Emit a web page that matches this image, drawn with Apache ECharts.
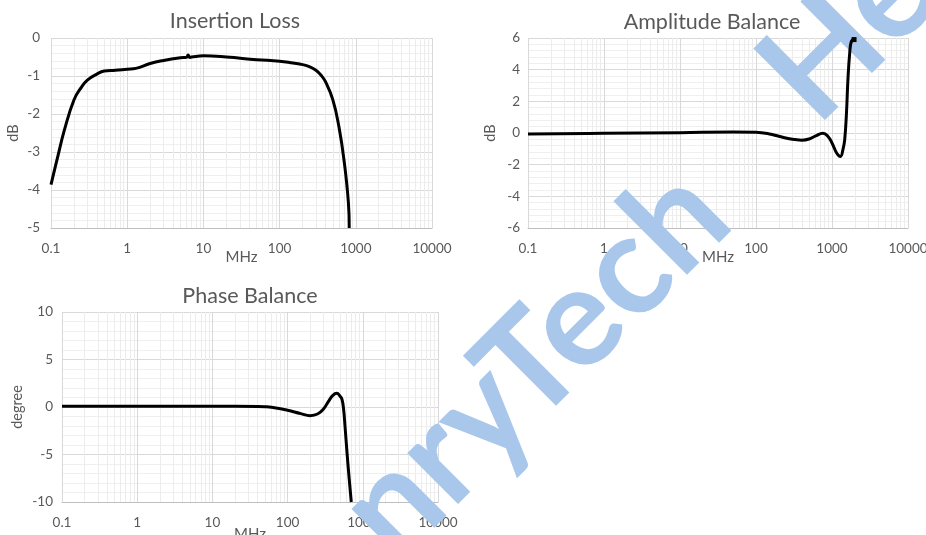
<!DOCTYPE html>
<html><head><meta charset="utf-8">
<script src="https://cdn.jsdelivr.net/npm/echarts@6/dist/echarts.min.js"></script>
<style>html,body{margin:0;padding:0;background:#fff}#c{width:926px;height:535px}</style>
</head><body><div id="c"></div>
<script>
// Insertion Loss (MHz, dB)
const ilFreq = [0.1, 0.12, 0.15, 0.2, 0.25, 0.3, 0.4, 0.5, 0.7, 1, 1.3, 2, 3, 5, 6, 6.3, 6.6, 7, 10, 20, 50, 100, 150, 200, 250, 300, 350, 400, 500, 600, 700, 800, 820];
const ilDb   = [-3.86, -3.2, -2.42, -1.63, -1.30, -1.11, -0.95, -0.87, -0.85, -0.82, -0.80, -0.67, -0.59, -0.52, -0.51, -0.45, -0.51, -0.50, -0.47, -0.50, -0.57, -0.61, -0.66, -0.70, -0.76, -0.85, -0.98, -1.15, -1.63, -2.33, -3.21, -4.34, -5.0];
// Amplitude Balance (MHz, dB)
const abFreq = [0.1, 1, 10, 50, 100, 150, 200, 300, 400, 500, 600, 760, 880, 1000, 1150, 1290, 1400, 1470, 1550, 1620, 1710, 1800, 1950];
const abDb   = [-0.06, -0.02, 0.02, 0.06, 0.04, -0.06, -0.21, -0.40, -0.45, -0.38, -0.20, -0.02, -0.20, -0.63, -1.26, -1.48, -1.00, -0.42, 1.26, 3.37, 5.05, 5.80, 5.90];
// Phase Balance (MHz, degree)
const pbFreq = [0.1, 1, 10, 40, 50, 70, 100, 150, 200, 250, 300, 350, 400, 450, 500, 530, 556, 580, 617, 660, 703];
const pbDeg  = [0.07, 0.07, 0.07, 0.06, 0.03, -0.10, -0.35, -0.70, -0.91, -0.74, -0.21, 0.60, 1.23, 1.44, 1.12, 0.77, -0.28, -2.0, -4.84, -7.6, -10];

const titles = ['Insertion Loss', 'Amplitude Balance', 'Phase Balance'];
const yNames = ['dB', 'dB', 'degree'];
const xName = 'MHz';
const decades = [0.1, 1, 10, 100, 1000];
const minorSteps = [2, 3, 4, 5, 6, 7, 8, 9];
const watermark = ['nryTech', 'He'];

const FONT = 'Lato';
const TXT = '#595959';
const minorX = [];
decades.forEach(d => minorSteps.forEach(s => minorX.push(+(d * s).toPrecision(3))));

const grids = [
  {left: 51, top: 38, width: 381, height: 190, outerBoundsMode: 'none', containLabel: false},
  {left: 528, top: 38, width: 380, height: 190, outerBoundsMode: 'none', containLabel: false},
  {left: 62, top: 312, width: 376, height: 190, outerBoundsMode: 'none', containLabel: false}
];
const yCfg = [
  {min: -5, max: 0, interval: 1, gap: 30},
  {min: -6, max: 6, interval: 2, gap: 30},
  {min: -10, max: 10, interval: 5, gap: 37}
];
const labelMargin = [11, 8, 9];
const xNameGap = [22, 22, 25];

const xAxes = grids.map((g, i) => ({
  type: 'log', logBase: 10, gridIndex: i, min: 0.1, max: 10000,
  name: xName, nameLocation: 'middle', nameGap: xNameGap[i], nameMoveOverlap: false,
  nameTextStyle: {color: TXT, fontFamily: FONT, fontSize: 15},
  axisLine: {onZero: false, lineStyle: {color: '#bfbfbf', width: 1}},
  axisTick: {show: false},
  axisLabel: {color: TXT, fontFamily: FONT, fontSize: 13.5, margin: 14,
              formatter: v => String(+Number(v).toPrecision(6))},
  splitLine: {show: true, lineStyle: {color: '#d9d9d9', width: 1}}
}));
const yAxes = grids.map((g, i) => ({
  type: 'value', gridIndex: i, min: yCfg[i].min, max: yCfg[i].max, interval: yCfg[i].interval,
  name: yNames[i], nameLocation: 'middle', nameGap: yCfg[i].gap, nameMoveOverlap: false,
  nameTextStyle: {color: TXT, fontFamily: FONT, fontSize: 14.5},
  axisLine: {show: false}, axisTick: {show: false},
  axisLabel: {color: TXT, fontFamily: FONT, fontSize: 13.5, margin: labelMargin[i]},
  splitLine: {show: true, lineStyle: {color: '#d9d9d9', width: 1}},
  minorTick: {show: false, splitNumber: 5},
  minorSplitLine: {show: true, lineStyle: {color: '#efefef', width: 1}}
}));

const dataSets = [
  ilFreq.map((f, k) => [f, ilDb[k]]),
  abFreq.map((f, k) => k === abFreq.length - 1 ? {value: [f, abDb[k]], symbol: 'rect', symbolSize: 5} : [f, abDb[k]]),
  pbFreq.map((f, k) => [f, pbDeg[k]])
];

const series = [];
grids.forEach((g, i) => {
  series.push({
    type: 'line', xAxisIndex: i, yAxisIndex: i, z: 0, silent: true,
    data: [[1, yCfg[i].min]], symbol: 'none', lineStyle: {opacity: 0},
    markLine: {
      silent: true, z: 0, symbol: ['none', 'none'], label: {show: false}, animation: false,
      lineStyle: {color: '#ececec', width: 1, type: 'solid'},
      emphasis: {disabled: true},
      data: minorX.map(v => ({xAxis: v}))
    }
  });
  series.push({
    type: 'line', xAxisIndex: i, yAxisIndex: i, z: 3,
    data: dataSets[i], smooth: 0.45,
    showSymbol: i === 1, symbol: 'none', itemStyle: {color: '#000'},
    lineStyle: {color: '#000', width: 3}, clip: true
  });
});

const titleCfg = [
  {x: 235, y: 10}, {x: 712, y: 11}, {x: 250, y: 285}
];

const wmStyle = {fontFamily: FONT, fontSize: 140, fontWeight: 'bold', fill: '#a8c7eb', textVerticalAlign: 'middle'};

const chart = echarts.init(document.getElementById('c'), null, {renderer: 'canvas'});
chart.setOption({
  animation: false,
  backgroundColor: '#fff',
  title: titles.map((t, i) => ({
    text: t, left: titleCfg[i].x, top: titleCfg[i].y, textAlign: 'center', padding: 0,
    textStyle: {color: TXT, fontFamily: FONT, fontSize: 21.5, fontWeight: 'normal'}
  })),
  grid: grids,
  xAxis: xAxes,
  yAxis: yAxes,
  series: series,
  graphic: [{
    type: 'text', z: 1, silent: true,
    x: 705, y: 193, rotation: Math.PI / 4,
    style: Object.assign({text: watermark[0], textAlign: 'right'}, wmStyle)
  }, {
    type: 'text', z: 1, silent: true,
    x: 785, y: 96, rotation: Math.PI / 4,
    style: Object.assign({text: watermark[1], textAlign: 'left'}, wmStyle)
  }]
});
</script></body></html>
